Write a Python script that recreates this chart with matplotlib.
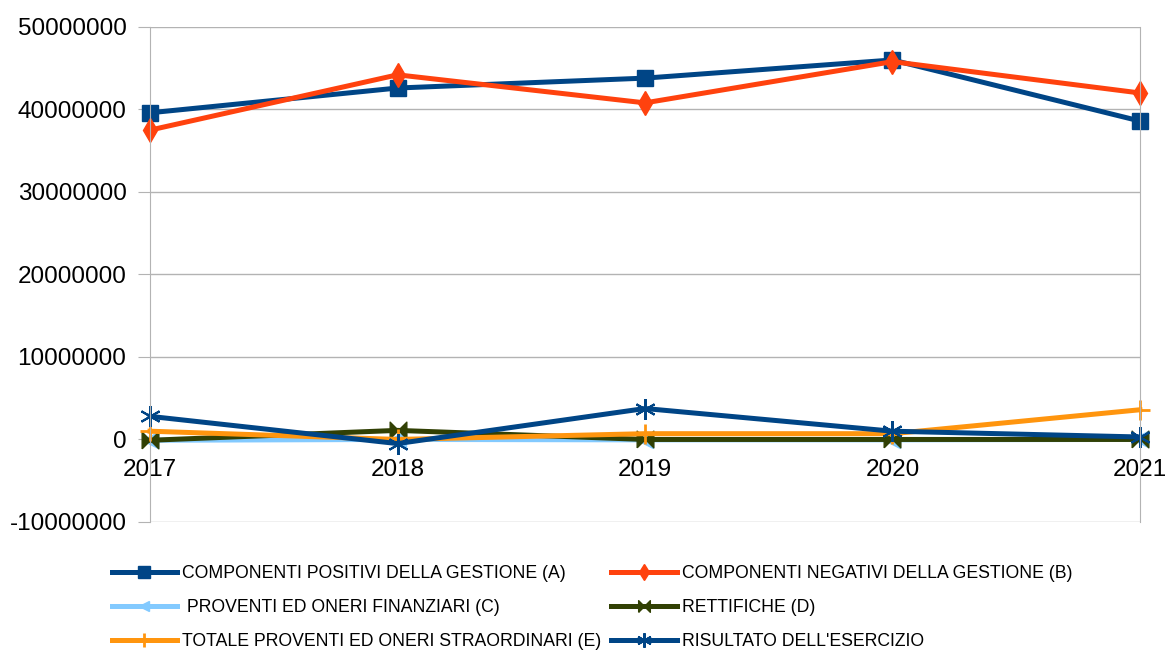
import matplotlib.pyplot as plt
from matplotlib.ticker import MultipleLocator, FuncFormatter

plt.rcParams['font.family'] = ['Liberation Sans', 'DejaVu Sans']

years = [2017, 2018, 2019, 2020, 2021]

positivi = [39600000, 42600000, 43800000, 46000000, 38600000]
negativi = [37500000, 44200000, 40800000, 45800000, 42000000]
finanziari = [-100000, 0, -50000, -50000, 0]
rettifiche = [-100000, 1100000, 0, 0, 0]
straordinari = [1000000, 0, 700000, 700000, 3600000]
risultato = [2800000, -500000, 3750000, 1000000, 300000]

labels = [
    "COMPONENTI POSITIVI DELLA GESTIONE (A)",
    "COMPONENTI NEGATIVI DELLA GESTIONE (B)",
    " PROVENTI ED ONERI FINANZIARI (C)",
    "RETTIFICHE (D)",
    "TOTALE PROVENTI ED ONERI STRAORDINARI (E)",
    "RISULTATO DELL'ESERCIZIO",
]

bowtie = [(-1, -1), (1, 1), (1, -1), (-1, 1), (-1, -1)]

fig = plt.figure(figsize=(11.65, 6.5), dpi=100)
ax = fig.add_axes([0.1288, 0.197, 0.8497, 0.7615])

lw = 3.6
h = []
h += ax.plot(years, positivi, color='#004586', lw=lw, marker='s', ms=12, label=labels[0])
h += ax.plot(years, negativi, color='#ff420e', lw=lw, marker='d', ms=12, label=labels[1])
h += ax.plot(years, finanziari, color='#83caff', lw=lw, marker='<', ms=11, label=labels[2])
h += ax.plot(years, rettifiche, color='#314004', lw=lw, marker=bowtie, ms=12, label=labels[3])
h += ax.plot(years, straordinari, color='#ff950e', lw=lw, marker='+', ms=15, mew=2, label=labels[4])
h += ax.plot(years, risultato, color='#004586', lw=lw, marker=(6, 2, 0), ms=15, mew=1.5, label=labels[5])

for line in h:
    line.set_clip_on(False)

ax.set_xlim(2017, 2021)
ax.set_ylim(-10000000, 50000000)
ax.yaxis.set_major_locator(MultipleLocator(10000000))
ax.yaxis.set_major_formatter(FuncFormatter(lambda v, p: f"{int(v)}"))
ax.set_xticks(years)

ax.grid(axis='y', color='#b3b3b3', lw=1)
ax.set_axisbelow(True)
for s in ['left', 'right']:
    ax.spines[s].set_color('#b3b3b3')
ax.spines['top'].set_visible(False)
ax.spines['bottom'].set_position(('data', 0))
ax.spines['bottom'].set_visible(False)

ax.tick_params(axis='y', length=9, color='#b3b3b3', labelsize=17.5, pad=8)
ax.tick_params(axis='x', length=0, labelsize=17.5, pad=14)

order = [0, 2, 4, 1, 3, 5]
leg = fig.legend([h[i] for i in order], [labels[i] for i in order],
                 ncol=2, loc='upper left', bbox_to_anchor=(0.096, 0.131),
                 frameon=False, fontsize=12.7, handlelength=3.7,
                 handletextpad=0.3, columnspacing=0.55, labelspacing=0.97,
                 borderaxespad=0, borderpad=0, markerscale=0.7)

fig.savefig('out.png', dpi=100)
